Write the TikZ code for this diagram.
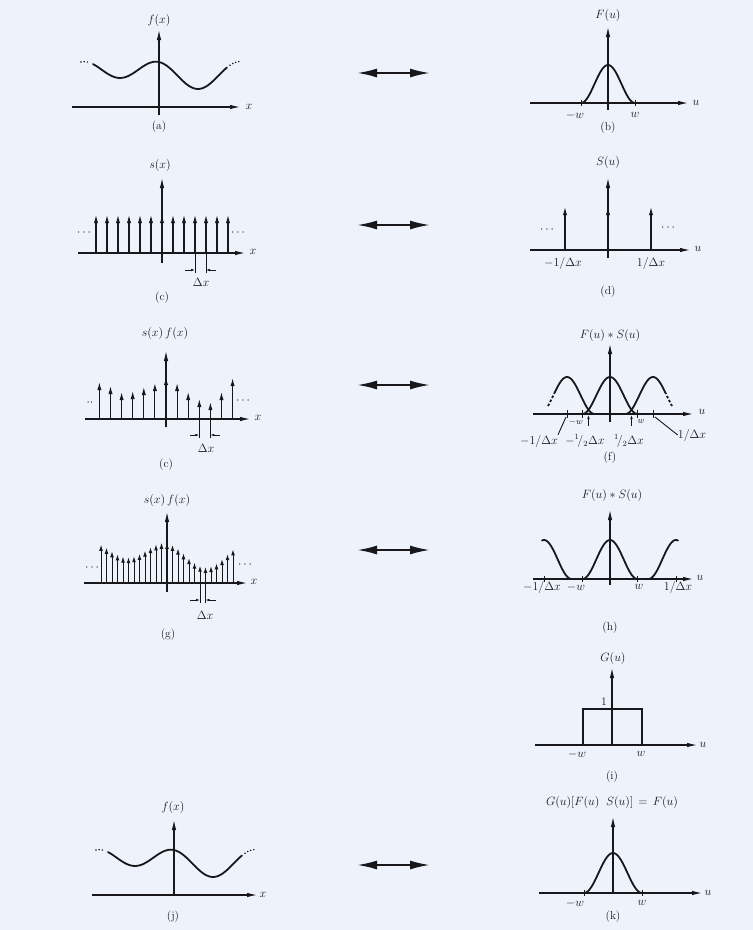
\documentclass[tikz,border=0pt]{standalone}
\usetikzlibrary{arrows.meta}

\definecolor{paper}{RGB}{238,242,250}
\definecolor{ink}{RGB}{24,24,28}

\begin{document}
\begin{tikzpicture}[
  x=1pt, y=-1pt,
  ax/.style={draw=ink, line width=1.1pt, -{Latex[length=10pt,width=4.5pt]}},
  tk/.style={draw=ink, line width=0.9pt},
  curve/.style={draw=ink, line width=1.8pt, line cap=round},
  spike/.style={draw=ink, line width=1.1pt, -{Latex[length=8pt,width=4.2pt]}},
  fine spike/.style={draw=ink, line width=0.9pt, -{Latex[length=6pt,width=3.8pt]}},
  gap/.style={draw=ink, line width=0.7pt, -{Latex[length=4pt,width=2.6pt]}},
  fourier/.style={draw=ink, line width=2pt, {Latex[length=20pt,width=9pt]}-{Latex[length=20pt,width=9pt]}},
  lbl/.style={text=ink, inner sep=0pt, font=\fontsize{11.5}{13}\selectfont},
  dotline/.style={draw=ink, line width=1.7pt, line cap=round, dash pattern=on 0pt off 3.2pt},
  dashline/.style={draw=ink, line width=1.8pt, dash pattern=on 2.5pt off 2pt},
  declare function={fx(\d)=34.25+10.75*cos(\d/78*360)-5.5*sin(\d/156*360);
                    bell(\t,\w)=(1+cos(\t/\w*180))/2;}
]
\fill[paper] (0,0) rectangle (753,930);

% (a)
\draw[ax] (72,107) -- (240,107);
\draw[ax] (159,115) -- (159,30);
\node[lbl] (xa) at (249,107) {$x$};
\node[lbl] (fa) at (159,20) {$f(x)$};
\draw[curve] plot[domain=-66:68, samples=50, smooth] ({159+\x},{107-fx(\x)});
\draw[dotline] plot[domain=-78:-70, samples=8] ({159+\x},{107-fx(\x)});
\draw[dotline] plot[domain=71:80, samples=8] ({159+\x},{107-fx(\x)});
\node[lbl] (pa) at (159,127) {(a)};

% (b)
\draw[ax] (530,103) -- (688,103);
\draw[ax] (608,110) -- (608,27);
\node[lbl] (ub) at (696,103) {$u$};
\node[lbl] (fb) at (608,15) {$F(u)$};
\draw[curve] plot[domain=-27:27, samples=40, smooth] ({608+\x},{103-38*bell(\x,27)});
\foreach \u in {581,635} \draw[tk] (\u,100) -- (\u,106);
\node[lbl] (mwb) at (575,115) {$-w$};
\node[lbl] (wb) at (635,115) {$w$};
\node[lbl] (pb) at (608,128) {(b)};

% (c)
\draw[ax] (78,253) -- (245,253);
\draw[ax] (162,263) -- (162,178);
\node[lbl] (xc) at (253,252) {$x$};
\node[lbl] (sc) at (160,165) {$s(x)$};
\foreach \k in {-6,...,6} \draw[spike] ({162+11*\k},253) -- ++(0,-38);
\node[lbl] (lc) at (84,233) {$\cdots$};
\node[lbl] (rc) at (238,233) {$\cdots$};
\draw[tk] (195,253) -- (195,273);
\draw[tk] (206,253) -- (206,273);
\draw[gap] (185,270) -- (195,270);
\draw[gap] (216,270) -- (206,270);
\node[lbl] (dc) at (201,282) {$\Delta x$};
\node[lbl] (pc) at (162,298) {(c)};

% (d)
\draw[ax] (530,250) -- (690,250);
\draw[ax] (608,258) -- (608,178);
\node[lbl] (ud) at (698,249) {$u$};
\node[lbl] (sd) at (608,162) {$S(u)$};
\foreach \k in {-1,0,1} \draw[spike] ({608+43*\k},250) -- ++(0,-43);
\node[lbl] (ld) at (547,230) {$\cdots$};
\node[lbl] (rd) at (668,228) {$\cdots$};
\node[lbl] (m1d) at (563,263) {$-1/\Delta x$};
\node[lbl] (p1d) at (651,263) {$1/\Delta x$};
\node[lbl] (pd) at (608,292) {(d)};

% (e)
\draw[ax] (85,419) -- (250,419);
\draw[ax] (166,427) -- (166,351);
\node[lbl] (xe) at (258,418) {$x$};
\node[lbl] (se) at (165,333) {$s(x)\,f(x)$};
\foreach \k/\h in {-6/37,-5/33,-4/27,-3/28,-2/32,-1/36,0/42,1/36,2/27,3/20,4/17,5/27,6/41}
  \draw[spike] ({166+11.1*\k},419) -- ++(0,-\h);
\node[lbl] (le) at (90,403) {$\cdot\cdot$};
\node[lbl] (re) at (243,401) {$\cdots$};
\draw[tk] (199.3,419) -- (199.3,438);
\draw[tk] (210.4,419) -- (210.4,438);
\draw[gap] (190,435) -- (199.3,435);
\draw[gap] (220,435) -- (210.4,435);
\node[lbl] (de) at (206,448) {$\Delta x$};
\node[lbl] (pe) at (166,465) {(c)};

% (f)
\draw[ax] (533,414) -- (693,414);
\draw[ax] (610,422) -- (610,344);
\node[lbl] (uf) at (702,412) {$u$};
\node[lbl] (ff) at (610,335) {$F(u)*S(u)$};
\draw[curve] plot[domain=-27.5:27.5, samples=40, smooth] ({610+\x},{414-37*bell(\x,27.5)});
\draw[curve] plot[domain=-12:27.5, samples=40, smooth] ({567+\x},{414-37*bell(\x,27.5)});
\draw[dashline] plot[domain=-19:-12, samples=8, smooth] ({567+\x},{414-37*bell(\x,27.5)});
\draw[curve] plot[domain=-27.5:12, samples=40, smooth] ({653+\x},{414-37*bell(\x,27.5)});
\draw[dashline] plot[domain=12:19, samples=8, smooth] ({653+\x},{414-37*bell(\x,27.5)});
\foreach \u in {567,582.5,637.5,653} \draw[tk] (\u,410) -- (\u,418);
\foreach \u in {588.5,631.5} \draw[gap] (\u,426) -- (\u,415);
\coordinate (t1f) at (566,417);
\coordinate (t2f) at (655,417);
\node[lbl, font=\small] (mwf) at (576,422) {$-w$};
\node[lbl, font=\small] (wf) at (641,422) {$w$};
\node[lbl] (m1f) at (539,441) {$-1/\Delta x$};
\node[lbl] (m2f) at (585,441) {$-{}^1\!/_2\Delta x$};
\node[lbl] (p2f) at (629,441) {${}^1\!/_2\Delta x$};
\node[lbl] (p1f) at (692,435) {$1/\Delta x$};
\draw[tk] (m1f.north east) -- (t1f);
\draw[tk] (p1f.west) -- (t2f);
\node[lbl] (pf) at (610,458) {(f)};

% (g)
\draw[ax] (84,583) -- (247,583);
\draw[ax] (167,592) -- (167,512);
\node[lbl] (xg) at (254,582) {$x$};
\node[lbl] (sg) at (167,500) {$s(x)\,f(x)$};
\foreach \k in {-12,...,12} \draw[fine spike] ({167+5.5*\k},583) -- ++(0,{-0.89*fx(5.5*\k)});
\node[lbl] (lg) at (92,568) {$\cdots$};
\node[lbl] (rg) at (245,565) {$\cdots$};
\draw[tk] (200,583) -- (200,603);
\draw[tk] (205.5,583) -- (205.5,603);
\draw[gap] (190,600) -- (200,600);
\draw[gap] (216,600) -- (205.5,600);
\node[lbl] (dg) at (205,615) {$\Delta x$};
\node[lbl] (pg) at (168,635) {(g)};

% (h)
\draw[ax] (533,579) -- (693,579);
\draw[ax] (610,585) -- (610,510);
\node[lbl] (uh) at (700,578) {$u$};
\node[lbl] (fh) at (612,495) {$F(u)*S(u)$};
\draw[curve] plot[domain=-27.5:27.5, samples=40, smooth] ({610+\x},{579-39*bell(\x,27.5)});
\draw[curve] plot[domain=-2:27.5, samples=30, smooth] ({544+\x},{579-39*bell(\x,27.5)});
\draw[curve] plot[domain=-27.5:2, samples=30, smooth] ({676+\x},{579-39*bell(\x,27.5)});
\foreach \u in {544,582.5,637.5,676} \draw[tk] (\u,576) -- (\u,582);
\node[lbl] (m1h) at (542,587) {$-1/\Delta x$};
\node[lbl] (mwh) at (576,587) {$-w$};
\node[lbl] (wh) at (639,587) {$w$};
\node[lbl] (p1h) at (678,587) {$1/\Delta x$};
\node[lbl] (ph) at (610,628) {(h)};

% (i)
\draw[ax] (535,745) -- (697,745);
\draw[ax] (612,745) -- (612,668);
\node[lbl] (ui) at (703,745) {$u$};
\node[lbl] (gi) at (613,658) {$G(u)$};
\draw[curve, line cap=butt] (583,745) -- (583,709) -- (642,709) -- (642,745);
\node[lbl] (oi) at (604,702) {1};
\node[lbl] (mwi) at (577,754) {$-w$};
\node[lbl] (wi) at (641,754) {$w$};
\node[lbl] (pi) at (612,777) {(i)};

% (j)
\draw[ax] (92,895) -- (257,895);
\draw[ax] (174,895) -- (174,820);
\node[lbl] (xj) at (263,895) {$x$};
\node[lbl] (fj) at (173,807) {$f(x)$};
\draw[curve] plot[domain=-66:68, samples=50, smooth] ({174+\x},{895-fx(\x)});
\draw[dotline] plot[domain=-78:-70, samples=8] ({174+\x},{895-fx(\x)});
\draw[dotline] plot[domain=71:80, samples=8] ({174+\x},{895-fx(\x)});
\node[lbl] (pj) at (173,917) {(j)};

% (k)
\draw[ax] (539,893) -- (702,893);
\draw[ax] (613,893) -- (613,817);
\node[lbl] (uk) at (708,893) {$u$};
\node[lbl] (gk) at (612,802) {$G(u)[F(u)\;\;S(u)] \,=\, F(u)$};
\draw[curve] plot[domain=-29:29, samples=40, smooth] ({613+\x},{893-40*bell(\x,29)});
\foreach \u in {584,642} \draw[tk] (\u,890) -- (\u,896);
\node[lbl] (mwk) at (575,903) {$-w$};
\node[lbl] (wk) at (642,903) {$w$};
\node[lbl] (pk) at (613,917) {(k)};

% transform pairs
\foreach \y/\n in {73/ab,225/cd,385/ef,550/gh,865/jk} {
  \coordinate (\n-l) at (357,\y);
  \coordinate (\n-r) at (430,\y);
  \draw[fourier] (\n-l) -- (\n-r);
}
\end{tikzpicture}
\end{document}
